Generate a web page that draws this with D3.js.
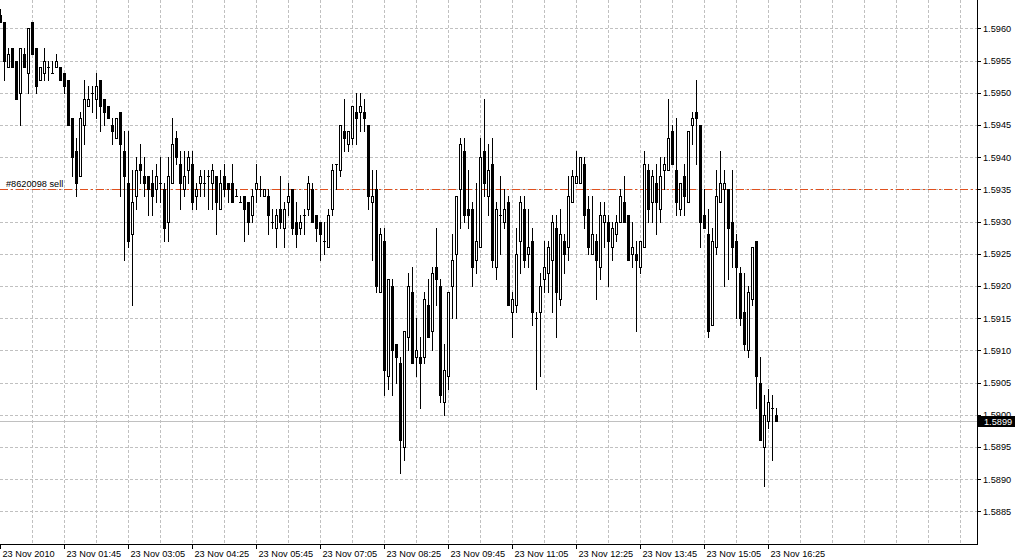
<!DOCTYPE html>
<html><head><meta charset="utf-8">
<script src="https://d3js.org/d3.v7.min.js"></script>
<style>
html,body{margin:0;padding:0;background:#fff;overflow:hidden}
text{font-family:"Liberation Sans",Arial,sans-serif;font-size:9.2px;fill:#000}
</style>
</head><body><svg id="c" width="1015" height="560"></svg>
<script>
// 5-minute candles, 23 Nov 2010 00:25 .. 16:35
const open = [
1.5962,1.5961,1.5954,1.5957,1.5955,1.5950,1.5956,1.5953,1.5961,1.5957,
1.5952,1.5953,1.5954,1.5953,1.5954,1.5954,1.5953,1.5952,1.5946,1.5941,
1.5937,1.5945,1.5948,1.5950,1.5949,1.5952,1.5949,1.5948,1.5945,1.5943,
1.5947,1.5941,1.5936,1.5928,1.5934,1.5939,1.5937,1.5937,1.5936,1.5935,
1.5936,1.5935,1.5930,1.5936,1.5943,1.5939,1.5935,1.5938,1.5939,1.5934,
1.5936,1.5936,1.5937,1.5936,1.5937,1.5932,1.5937,1.5936,1.5936,1.5934,
1.5933,1.5934,1.5933,1.5931,1.5935,1.5935,1.5934,1.5934,1.5930,1.5929,
1.5932,1.5929,1.5933,1.5935,1.5930,1.5929,1.5931,1.5932,1.5935,1.5931,
1.5930,1.5927,1.5926,1.5932,1.5939,1.5938,1.5944,1.5942,1.5943,1.5947,
1.5947,1.5947,1.5945,1.5933,1.5935,1.5919,1.5927,1.5906,1.5920,1.5911,
1.5908,1.5895,1.5912,1.5919,1.5909,1.5909,1.5909,1.5917,1.5913,1.5923,
1.5920,1.5902,1.5906,1.5920,1.5925,1.5935,1.5941,1.5932,1.5932,1.5924,
1.5926,1.5941,1.5934,1.5939,1.5923,1.5931,1.5930,1.5933,1.5916,1.5917,
1.5927,1.5932,1.5925,1.5927,1.5915,1.5916,1.5921,1.5922,1.5924,1.5929,
1.5918,1.5927,1.5926,1.5933,1.5936,1.5936,1.5939,1.5932,1.5925,1.5927,
1.5923,1.5930,1.5930,1.5926,1.5928,1.5930,1.5933,1.5931,1.5925,1.5925,
1.5923,1.5926,1.5938,1.5933,1.5936,1.5932,1.5938,1.5938,1.5944,1.5938,
1.5932,1.5937,1.5933,1.5945,1.5947,1.5945,1.5931,1.5928,1.5914,1.5926,
1.5933,1.5935,1.5935,1.5930,1.5927,1.5922,1.5916,1.5910,1.5918,1.5927,
1.5905,1.5895,1.5899,1.5901,1.5900
];
const high = [
1.5963,1.5961,1.5957,1.5957,1.5955,1.5957,1.5957,1.5960,1.5961,1.5957,
1.5954,1.5957,1.5955,1.5955,1.5956,1.5954,1.5953,1.5952,1.5946,1.5943,
1.5947,1.5952,1.5951,1.5951,1.5953,1.5952,1.5949,1.5948,1.5946,1.5946,
1.5947,1.5944,1.5944,1.5938,1.5940,1.5942,1.5940,1.5937,1.5938,1.5939,
1.5940,1.5936,1.5940,1.5946,1.5944,1.5941,1.5941,1.5941,1.5941,1.5936,
1.5938,1.5938,1.5938,1.5939,1.5937,1.5938,1.5939,1.5936,1.5939,1.5935,
1.5934,1.5934,1.5933,1.5935,1.5939,1.5937,1.5935,1.5935,1.5932,1.5932,
1.5937,1.5933,1.5936,1.5935,1.5933,1.5931,1.5932,1.5937,1.5936,1.5931,
1.5930,1.5930,1.5932,1.5939,1.5939,1.5945,1.5949,1.5944,1.5948,1.5950,
1.5950,1.5949,1.5945,1.5938,1.5938,1.5929,1.5929,1.5921,1.5921,1.5911,
1.5909,1.5913,1.5922,1.5923,1.5915,1.5912,1.5919,1.5921,1.5923,1.5929,
1.5921,1.5911,1.5919,1.5928,1.5934,1.5943,1.5943,1.5938,1.5933,1.5936,
1.5943,1.5949,1.5942,1.5943,1.5933,1.5937,1.5935,1.5934,1.5919,1.5929,
1.5934,1.5934,1.5932,1.5929,1.5916,1.5922,1.5927,1.5927,1.5931,1.5931,
1.5932,1.5928,1.5937,1.5938,1.5941,1.5940,1.5940,1.5934,1.5934,1.5928,
1.5933,1.5933,1.5931,1.5930,1.5931,1.5935,1.5937,1.5931,1.5930,1.5927,
1.5927,1.5941,1.5939,1.5938,1.5939,1.5940,1.5940,1.5949,1.5945,1.5946,
1.5936,1.5939,1.5944,1.5947,1.5952,1.5945,1.5935,1.5932,1.5929,1.5938,
1.5941,1.5938,1.5935,1.5938,1.5928,1.5923,1.5922,1.5920,1.5926,1.5927,
1.5909,1.5903,1.5904,1.5903,1.5901
];
const low = [
1.5961,1.5952,1.5954,1.5954,1.5949,1.5945,1.5954,1.5950,1.5956,1.5950,
1.5952,1.5952,1.5952,1.5953,1.5954,1.5952,1.5950,1.5945,1.5937,1.5934,
1.5937,1.5942,1.5948,1.5947,1.5946,1.5944,1.5945,1.5946,1.5942,1.5943,
1.5934,1.5924,1.5926,1.5917,1.5932,1.5936,1.5934,1.5931,1.5931,1.5933,
1.5933,1.5927,1.5927,1.5936,1.5939,1.5932,1.5934,1.5936,1.5932,1.5932,
1.5934,1.5934,1.5932,1.5932,1.5928,1.5932,1.5934,1.5933,1.5933,1.5934,
1.5933,1.5927,1.5928,1.5930,1.5933,1.5934,1.5934,1.5928,1.5929,1.5926,
1.5929,1.5926,1.5931,1.5928,1.5926,1.5928,1.5928,1.5931,1.5930,1.5927,
1.5924,1.5925,1.5926,1.5931,1.5935,1.5937,1.5941,1.5941,1.5942,1.5942,
1.5944,1.5944,1.5932,1.5924,1.5919,1.5919,1.5903,1.5904,1.5903,1.5905,
1.5891,1.5893,1.5910,1.5908,1.5906,1.5901,1.5908,1.5912,1.5910,1.5917,
1.5902,1.5900,1.5904,1.5915,1.5915,1.5929,1.5930,1.5929,1.5920,1.5922,
1.5926,1.5934,1.5931,1.5923,1.5921,1.5925,1.5929,1.5917,1.5912,1.5916,
1.5922,1.5923,1.5923,1.5914,1.5904,1.5906,1.5919,1.5919,1.5916,1.5912,
1.5917,1.5922,1.5924,1.5933,1.5936,1.5936,1.5929,1.5925,1.5925,1.5918,
1.5921,1.5926,1.5920,1.5924,1.5927,1.5930,1.5930,1.5924,1.5923,1.5913,
1.5922,1.5926,1.5930,1.5930,1.5928,1.5930,1.5935,1.5938,1.5939,1.5931,
1.5931,1.5931,1.5933,1.5942,1.5939,1.5926,1.5929,1.5912,1.5914,1.5925,
1.5933,1.5920,1.5921,1.5923,1.5915,1.5914,1.5910,1.5909,1.5917,1.5901,
1.5896,1.5889,1.5898,1.5893,1.5899
];
const close = [
1.5961,1.5955,1.5956,1.5954,1.5949,1.5957,1.5954,1.5960,1.5956,1.5951,
1.5954,1.5955,1.5954,1.5953,1.5955,1.5952,1.5951,1.5945,1.5940,1.5936,
1.5946,1.5949,1.5949,1.5950,1.5951,1.5948,1.5947,1.5946,1.5944,1.5946,
1.5942,1.5937,1.5927,1.5933,1.5938,1.5938,1.5936,1.5935,1.5934,1.5937,
1.5936,1.5929,1.5937,1.5942,1.5940,1.5936,1.5937,1.5940,1.5933,1.5935,
1.5937,1.5936,1.5937,1.5938,1.5933,1.5936,1.5935,1.5935,1.5933,1.5934,
1.5933,1.5932,1.5930,1.5934,1.5936,1.5935,1.5935,1.5931,1.5930,1.5931,
1.5930,1.5932,1.5934,1.5929,1.5928,1.5930,1.5931,1.5936,1.5930,1.5929,
1.5928,1.5927,1.5931,1.5938,1.5939,1.5945,1.5943,1.5944,1.5948,1.5946,
1.5948,1.5946,1.5934,1.5934,1.5920,1.5928,1.5907,1.5921,1.5910,1.5909,
1.5896,1.5913,1.5920,1.5908,1.5910,1.5908,1.5918,1.5912,1.5922,1.5921,
1.5903,1.5907,1.5919,1.5924,1.5934,1.5942,1.5931,1.5931,1.5923,1.5927,
1.5940,1.5936,1.5938,1.5924,1.5932,1.5931,1.5932,1.5917,1.5918,1.5925,
1.5933,1.5924,1.5926,1.5916,1.5915,1.5920,1.5923,1.5926,1.5930,1.5919,
1.5928,1.5925,1.5934,1.5937,1.5937,1.5940,1.5931,1.5926,1.5928,1.5924,
1.5931,1.5931,1.5927,1.5929,1.5930,1.5934,1.5930,1.5924,1.5926,1.5924,
1.5927,1.5939,1.5932,1.5937,1.5933,1.5937,1.5939,1.5943,1.5939,1.5933,
1.5936,1.5934,1.5944,1.5946,1.5946,1.5930,1.5929,1.5913,1.5927,1.5934,
1.5936,1.5936,1.5929,1.5926,1.5923,1.5915,1.5911,1.5919,1.5926,1.5906,
1.5896,1.5900,1.5902,1.5901,1.5899
];
const timeTickIndex = [0,16,32,48,64,80,96,112,128,144,160,176,192];
const timeTickLabels = ["23 Nov 2010","23 Nov 01:45","23 Nov 03:05","23 Nov 04:25","23 Nov 05:45","23 Nov 07:05","23 Nov 08:25","23 Nov 09:45","23 Nov 11:05","23 Nov 12:25","23 Nov 13:45","23 Nov 15:05","23 Nov 16:25"];
const priceTicks = [1.5960,1.5955,1.5950,1.5945,1.5940,1.5935,1.5930,1.5925,1.5920,1.5915,1.5910,1.5905,1.5900,1.5895,1.5890,1.5885];
const orderPrice = 1.5935;
const orderLabel = "#8620098 sell";
const lastPrice = 1.5899;

const plotRight = 977, plotBottom = 544;
const svg = d3.select('#c').attr('shape-rendering','crispEdges');
svg.append('rect').attr('width',1015).attr('height',560).attr('fill','#fff');

const x = d3.scaleLinear().domain([0,194]).range([0,776]);
const y = d3.scaleLinear().domain([1.5885,1.5960]).range([511.3,28.3]);
const px = i => Math.round(x(i));
const py = v => Math.round(y(v));

// grid
const grid = svg.append('g').attr('stroke','#c0c0c0').attr('stroke-width',1).attr('stroke-dasharray','3,2');
grid.selectAll('line.h').data(priceTicks).join('line').attr('class','h')
  .attr('x1',0).attr('x2',plotRight).attr('y1',d=>py(d)+0.5).attr('y2',d=>py(d)+0.5);
grid.selectAll('line.v').data(d3.range(8,241,8)).join('line').attr('class','v')
  .attr('y1',0).attr('y2',plotBottom).attr('x1',d=>px(d)+0.5).attr('x2',d=>px(d)+0.5);

// last price line
svg.append('line').attr('x1',0).attr('x2',plotRight)
  .attr('y1',py(lastPrice)+0.5).attr('y2',py(lastPrice)+0.5)
  .attr('stroke','#c0c0c0').attr('stroke-width',1);

// order line
svg.append('line').attr('x1',0).attr('x2',plotRight)
  .attr('y1',py(orderPrice)+0.5).attr('y2',py(orderPrice)+0.5)
  .attr('stroke','#e0501e').attr('stroke-width',1).attr('stroke-dasharray','8,3,2,3');
svg.append('text').attr('x',6).attr('y',py(orderPrice)-2).text(orderLabel);

// candles
const data = open.map((o,i)=>({i,o,h:high[i],l:low[i],c:close[i]}));
const cg = svg.append('g').selectAll('g').data(data).join('g');
cg.append('rect').attr('x',d=>px(d.i)).attr('width',1)
  .attr('y',d=>py(d.h)).attr('height',d=>py(d.l)-py(d.h)+1).attr('fill','#000');
cg.append('rect').attr('x',d=>px(d.i)-1).attr('width',3)
  .attr('y',d=>py(Math.max(d.o,d.c)))
  .attr('height',d=>py(Math.min(d.o,d.c))-py(Math.max(d.o,d.c))+1).attr('fill','#000');
cg.filter(d=>d.c>d.o && py(d.o)-py(d.c)>1).append('rect')
  .attr('x',d=>px(d.i)).attr('width',1)
  .attr('y',d=>py(d.c)+1).attr('height',d=>py(d.o)-py(d.c)-1).attr('fill','#fff');

// axes
const yAxis = d3.axisRight(y).tickValues(priceTicks).tickFormat(d3.format('.4f')).tickSize(4).tickPadding(2);
const ya = svg.append('g').attr('transform',`translate(${plotRight},0)`).call(yAxis);
ya.select('.domain').remove();
ya.selectAll('.tick line').attr('stroke','#000');
ya.selectAll('.tick text').attr('font-size',null).attr('font-family',null).attr('fill','#000');

const xAxis = d3.axisBottom(x).tickValues(timeTickIndex).tickFormat((d,i)=>timeTickLabels[i]).tickSize(5);
const xa = svg.append('g').attr('transform',`translate(0,${plotBottom})`).call(xAxis);
xa.select('.domain').remove();
xa.selectAll('.tick line').attr('stroke','#000');
xa.selectAll('.tick text').attr('font-size',null).attr('font-family',null).attr('fill','#000')
  .attr('text-anchor','start').attr('x',2).attr('y',13).attr('dy',0);

svg.append('line').attr('x1',plotRight+0.5).attr('x2',plotRight+0.5).attr('y1',0).attr('y2',plotBottom+1).attr('stroke','#000');
svg.append('line').attr('x1',0).attr('x2',plotRight+1).attr('y1',plotBottom+0.5).attr('y2',plotBottom+0.5).attr('stroke','#000');

// last price tag
const tag = svg.append('g').attr('transform',`translate(${plotRight+1},${py(lastPrice)})`);
tag.append('rect').attr('x',0).attr('y',-5).attr('width',1015-plotRight-1).attr('height',11).attr('fill','#000');
tag.append('text').attr('x',6).attr('y',0.5).attr('dy','0.35em').attr('fill','#fff').style('fill','#fff').text(d3.format('.4f')(lastPrice));
</script>
</body></html>
